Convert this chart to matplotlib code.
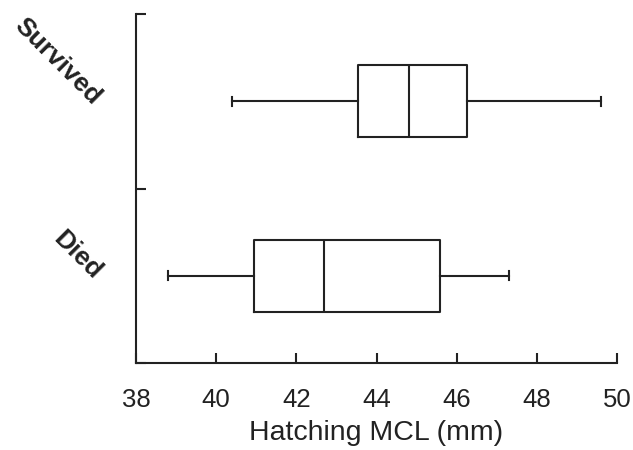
import matplotlib
matplotlib.use("Agg")
import matplotlib.pyplot as plt

categories = ["Died", "Survived"]
whisker_low = [38.80, 40.40]
q1 = [40.95, 43.55]
median = [42.69, 44.80]
q3 = [45.58, 46.25]
whisker_high = [47.30, 49.59]
x_ticks = [38, 40, 42, 44, 46, 48, 50]

plt.rcParams['font.family'] = ['Liberation Sans', 'DejaVu Sans']
plt.rcParams['xtick.direction'] = 'in'
plt.rcParams['ytick.direction'] = 'in'
ink = '#222222'

fig = plt.figure(figsize=(6.33, 4.5), dpi=100)
ax = fig.add_axes([136/633, 1-363/450, (617-136)/633, (363-14)/450])

stats = []
for i, c in enumerate(categories):
    stats.append(dict(label=c, whislo=whisker_low[i], q1=q1[i], med=median[i],
                      q3=q3[i], whishi=whisker_high[i], fliers=[]))

lw = 1.5
ax.bxp(stats, positions=[0.5, 1.5], widths=0.41, vert=False, capwidths=0.05,
       showfliers=False,
       boxprops=dict(color=ink, linewidth=lw),
       medianprops=dict(color=ink, linewidth=lw),
       whiskerprops=dict(color=ink, linewidth=lw),
       capprops=dict(color=ink, linewidth=lw))

ax.set_xlim(38, 50)
ax.set_ylim(0, 2)
ax.set_xticks(x_ticks)
ax.set_xticklabels([str(t) for t in x_ticks])
ax.set_yticks([0, 1, 2])
ax.set_yticklabels([])
ax.set_yticks([0.5, 1.5], minor=True)
ax.set_yticklabels(categories, minor=True)

for s in ['top', 'right']:
    ax.spines[s].set_visible(False)
for s in ['left', 'bottom']:
    ax.spines[s].set_linewidth(1.5)
    ax.spines[s].set_color(ink)

ax.xaxis.set_tick_params(which='major', direction='in', length=7, width=1.5, color=ink,
                         labelsize=18.5, labelcolor=ink, pad=18)
ax.yaxis.set_tick_params(which='major', direction='in', length=7, width=1.5, color=ink)
ax.yaxis.set_tick_params(which='minor', length=0, pad=28, labelsize=19, labelcolor=ink)
for lab in ax.get_yticklabels(minor=True):
    lab.set_rotation(-45)
    lab.set_rotation_mode('anchor')
    lab.set_ha('right')
    lab.set_va('center')
    lab.set_fontweight('bold')

ax.set_xlabel("Hatching MCL (mm)", fontsize=20.5, color=ink, labelpad=6)

fig.savefig("out.png", dpi=100)
